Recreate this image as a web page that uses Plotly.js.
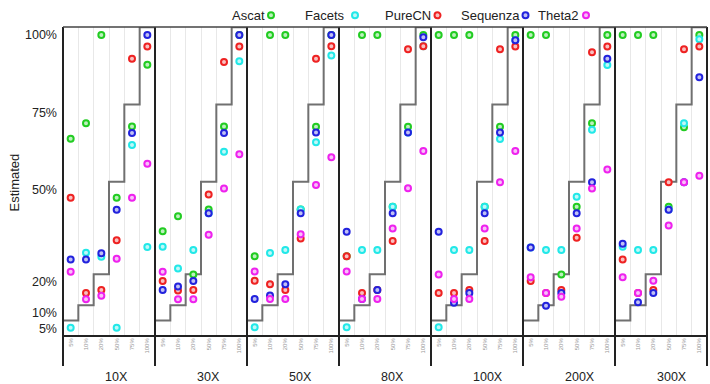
<!DOCTYPE html>
<html>
<head>
<meta charset="utf-8">
<script src="https://cdn.plot.ly/plotly-3.0.1.min.js"></script>
<style>
html,body{margin:0;padding:0;background:#fff;}
#chart{width:710px;height:384px;}
</style>
</head>
<body>
<div id="chart"></div>
<script>
// ---- data ----
const panels = ['10X','30X','50X','80X','100X','200X','300X'];
const purity = ['5%','10%','20%','50%','75%','100%'];
const stepLevels = [7.5,12.5,22.5,52.5,77.5,102.5];
const yTicks = [5,10,20,50,75,100];
const yTickText = ['5%','10%','20%','50%','75%','100%'];
const yTitle = 'Estimated';
const methods = ['Ascat','Facets','PureCN','Sequenza','Theta2'];
const colors = ['#22cc22','#22e8e8','#ee2222','#2222dd','#ee22ee'];
const fills  = ['#bdf0bd','#bff8f8','#f8c0c0','#c0c0f4','#f8c0f8'];

const ascat = [[66.4,71.4,100,47.3,70.4,90.4],[36.4,41.3,22.4,43.5,70.4,100],[28.3,100,100,43.5,70.3,100],[28.3,100,100,44.4,70.3,100],[100,100,100,44.4,70.3,100],[100,100,22.4,44.4,71.4,100],[100,100,100,44.4,70.1,100]];
const facets = [[5.2,29.5,28.2,5.2,64.4,31.3],[31.4,24.4,30.4,42.3,62.2,91.5],[5.3,29.4,30.4,43.5,65.3,93.4],[5.3,30.4,30.4,44.4,68.4,96.4],[5.3,30.4,30.4,44.4,66.3,98.3],[31.2,30.4,30.4,47.6,69.3,90.3],[31.4,30.4,30.4,43.5,71.4,98.6]];
const purecn = [[47.3,16.4,17.4,33.5,92.3,96.3],[20.3,17.2,17.4,48.3,91.3,96.3],[20.4,19.3,17.4,34.1,92.3,96.4],[28.3,16.4,17.4,33.3,95.4,96.4],[16.4,16.4,17.4,33.3,95.4,96.3],[20.3,16.4,17.4,34.3,94.4,96.3],[27.3,16.4,17.4,52.3,95.4,96.3]];
const sequenza = [[27.3,27.3,29.3,43.4,68.3,100],[17.4,18.5,20.3,42.3,68.3,100],[14.5,15.6,19.3,42.3,68.4,100],[36.3,14.5,17.4,42.3,68.4,99.3],[36.3,13.3,16.4,42.3,68.4,98.3],[31.2,12.3,16.4,42.3,52.3,92.3],[32.4,13.4,16.4,43.4,52.3,86.3]];
const theta2 = [[23.3,14.4,15.5,27.5,47.3,58.3],[23.3,14.4,14.4,35.3,50.3,61.4],[23.4,14.5,14.5,35.5,51.4,60.4],[23.4,14.5,14.5,37.3,50.4,62.4],[22.4,14.5,14.5,37.3,52.3,62.4],[21.5,16.4,15.2,37.3,50.3,56.4],[21.5,16.4,20.4,38.3,52.3,54.4]];
const seriesData = [ascat, facets, purecn, sequenza, theta2];

// ---- build ----
const FONT = 'Liberation Sans, Arial, sans-serif';
const nP = panels.length, nC = purity.length;
const centers = purity.map((_, i) => i + 0.5);
const edges = stepLevels.map((_, i) => i).concat([nC]);
const traces = [];
const layout = {
  width: 710, height: 384,
  margin: {l: 63, r: 3, t: 27, b: 48},
  paper_bgcolor: '#fff', plot_bgcolor: '#fff',
  showlegend: false,
  font: {family: FONT, color: '#222'},
  yaxis: {
    range: [2.5, 102.6], tickvals: yTicks, ticktext: yTickText,
    showgrid: false, zeroline: false, showline: false, ticks: '',
    tickfont: {size: 12.5, color: '#222'}, ticklabelstandoff: 5,
    anchor: 'x', fixedrange: true
  },
  shapes: [],
  annotations: [{
    xref: 'paper', yref: 'paper', x: (14.5 - 63) / 644, y: 0.495,
    xanchor: 'center', yanchor: 'middle', textangle: -90, showarrow: false,
    text: yTitle, font: {size: 13, color: '#222'}
  }]
};

for (let p = 0; p < nP; p++) {
  const ax = p === 0 ? 'x' : 'x' + (p + 1);
  const axKey = p === 0 ? 'xaxis' : 'xaxis' + (p + 1);
  layout[axKey] = {
    domain: [p / nP, (p + 1) / nP], range: [0, nC], anchor: 'y',
    tickvals: centers, ticktext: purity, tickangle: -90,
    tickfont: {size: 6, color: '#999'}, ticks: '',
    showgrid: false, zeroline: false, showline: false, fixedrange: true,
    minor: {tickmode: 'linear', tick0: 0, dtick: 1, showgrid: true, gridcolor: '#e8e8e8', gridwidth: 1, ticks: ''}
  };
  // step line (true purity)
  traces.push({
    type: 'scatter', mode: 'lines', xaxis: ax, yaxis: 'y',
    x: edges, y: stepLevels.concat([stepLevels[stepLevels.length - 1]]),
    line: {shape: 'hv', color: '#707070', width: 2}, hoverinfo: 'skip', cliponaxis: false
  });
  seriesData.forEach((s, m) => {
    traces.push({
      type: 'scatter', mode: 'markers', xaxis: ax, yaxis: 'y',
      x: centers, y: s[p], name: methods[m],
      marker: {symbol: 'circle', size: 6, color: fills[m], line: {color: colors[m], width: 2}},
      cliponaxis: false
    });
  });
  // panel label
  layout.annotations.push({
    xref: 'paper', yref: 'paper', x: p / nP + 40 / 644, y: -0.1326,
    xanchor: 'left', yanchor: 'middle', showarrow: false,
    text: panels[p], font: {size: 12.5, color: '#222'}
  });
}

// frame lines
const frameColor = '#222';
for (let p = 0; p <= nP; p++) {
  layout.shapes.push({type: 'line', xref: 'paper', yref: 'paper', x0: p / nP, x1: p / nP, y0: -0.097, y1: 1,
    line: {color: frameColor, width: 2}});
}
layout.shapes.push({type: 'line', xref: 'paper', yref: 'paper', x0: 0, x1: 1, y0: 0, y1: 0, line: {color: frameColor, width: 2}});
layout.shapes.push({type: 'line', xref: 'paper', yref: 'paper', x0: 0, x1: 1, y0: 1, y1: 1, line: {color: '#444', width: 1.5}});

// legend (text followed by marker)
const legendTextRight = [267, 347, 433, 522, 580];
const legendMarkerX = [271, 355, 437.5, 525.5, 586];
const legendY = 1.0378;
methods.forEach((m, i) => {
  layout.annotations.push({
    xref: 'paper', yref: 'paper', x: (legendTextRight[i] - 63) / 644, y: legendY,
    xanchor: 'right', yanchor: 'middle', showarrow: false, text: m,
    font: {size: 13, color: '#222'}
  });
  const cx = (legendMarkerX[i] - 63) / 644;
  layout.shapes.push({
    type: 'circle', xref: 'paper', yref: 'paper', xsizemode: 'pixel', ysizemode: 'pixel',
    xanchor: cx, yanchor: legendY, x0: -3, x1: 3, y0: -3, y1: 3,
    fillcolor: fills[i], line: {color: colors[i], width: 2}
  });
});

Plotly.newPlot('chart', traces, layout, {displayModeBar: false, staticPlot: true});
</script>
</body>
</html>
